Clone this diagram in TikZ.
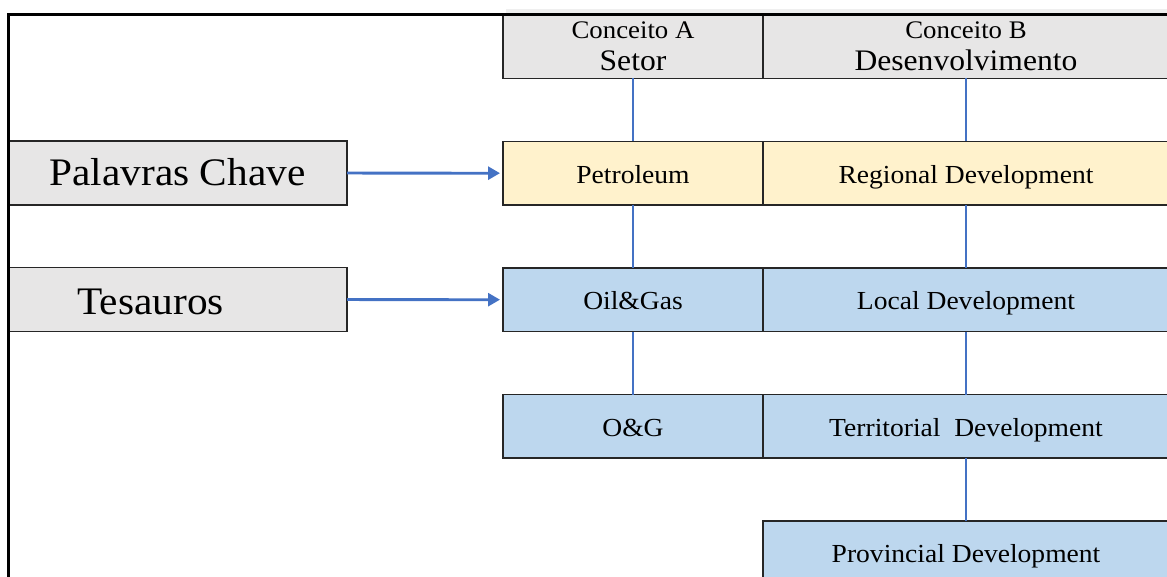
\documentclass[tikz,border=0pt]{standalone}
\usepackage{fontspec}
\setmainfont{Liberation Serif}[FakeStretch=1.06]
\usetikzlibrary{positioning,arrows.meta}

\definecolor{boxgray}{HTML}{E7E6E6}
\definecolor{bandgray}{HTML}{EFEFEF}
\definecolor{keyyellow}{HTML}{FFF2CC}
\definecolor{termblue}{HTML}{BDD7EE}
\definecolor{linkblue}{HTML}{4472C4}

\begin{document}
\begin{tikzpicture}[
  x = 1pt, y = -1pt,
  node distance = 63pt and 0pt,
  cell/.style={draw=black!85,line width=1.1pt,outer sep=0pt,inner sep=0pt,
    minimum height=63.5pt,font=\fontsize{26}{30}\selectfont},
  col-a/.style={cell,minimum width=260pt},
  col-b/.style={cell,minimum width=406pt},
  head/.style={fill=boxgray,align=center,font=\fontsize{25.3}{32}\selectfont},
  key/.style={fill=keyyellow,text height=20pt,text depth=0pt},
  term/.style={fill=termblue,text height=20pt,text depth=0pt},
  key-box/.style={draw=black!85,line width=1.1pt,fill=boxgray,outer sep=0pt,
    minimum width=339pt,minimum height=64pt,text height=25pt,text depth=0pt,
    font=\fontsize{39}{44}\selectfont},
  feed-arrow/.style={-{Triangle[length=12pt,width=13pt]},line width=2.8pt,
    draw=linkblue,shorten >=3pt},
  link/.style={draw=linkblue,line width=1.2pt},
  ]
  \clip (0,0) rectangle (1167,577);
  \fill [bandgray] (506,9) rectangle (1167,15);

  \node [col-a,head] (setor) at (633,46.75)
    {Conceito A\\{\fontsize{29.8}{32}\selectfont Setor}};
  \node [col-b,head,right=of setor] (desenv)
    {Conceito B\\{\fontsize{29.8}{32}\selectfont Desenvolvimento}};

  \node [col-a,key,below=of setor]       (petroleum)   {Petroleum};
  \node [col-b,key,right=of petroleum]   (regional)    {Regional Development};
  \node [col-a,term,below=of petroleum]  (oilgas)      {Oil\&Gas};
  \node [col-b,term,right=of oilgas]     (local)       {Local Development};
  \node [col-a,term,below=of oilgas]     (og)          {O\&G};
  \node [col-b,term,right=of og]         (territorial) {Territorial\ \ Development};
  \node [col-b,term,below=of territorial] (provincial) {Provincial Development};

  \node [key-box] (palavras) at (177.5,173) {Palavras Chave};
  \node [key-box,text width=200pt,text height=31pt,align=left] (tesauros)
    at (177.5,299.5) {Tesauros};

  \draw [feed-arrow] (palavras) -- (petroleum);
  \draw [feed-arrow] (tesauros) -- (oilgas);

  \draw [link] (setor)       -- (petroleum);
  \draw [link] (petroleum)   -- (oilgas);
  \draw [link] (oilgas)      -- (og);
  \draw [link] (desenv)      -- (regional);
  \draw [link] (regional)    -- (local);
  \draw [link] (local)       -- (territorial);
  \draw [link] (territorial) -- (provincial);

  \draw [line width=3pt] (8,577) -- (8,15) -- (1167,15);
\end{tikzpicture}
\end{document}
